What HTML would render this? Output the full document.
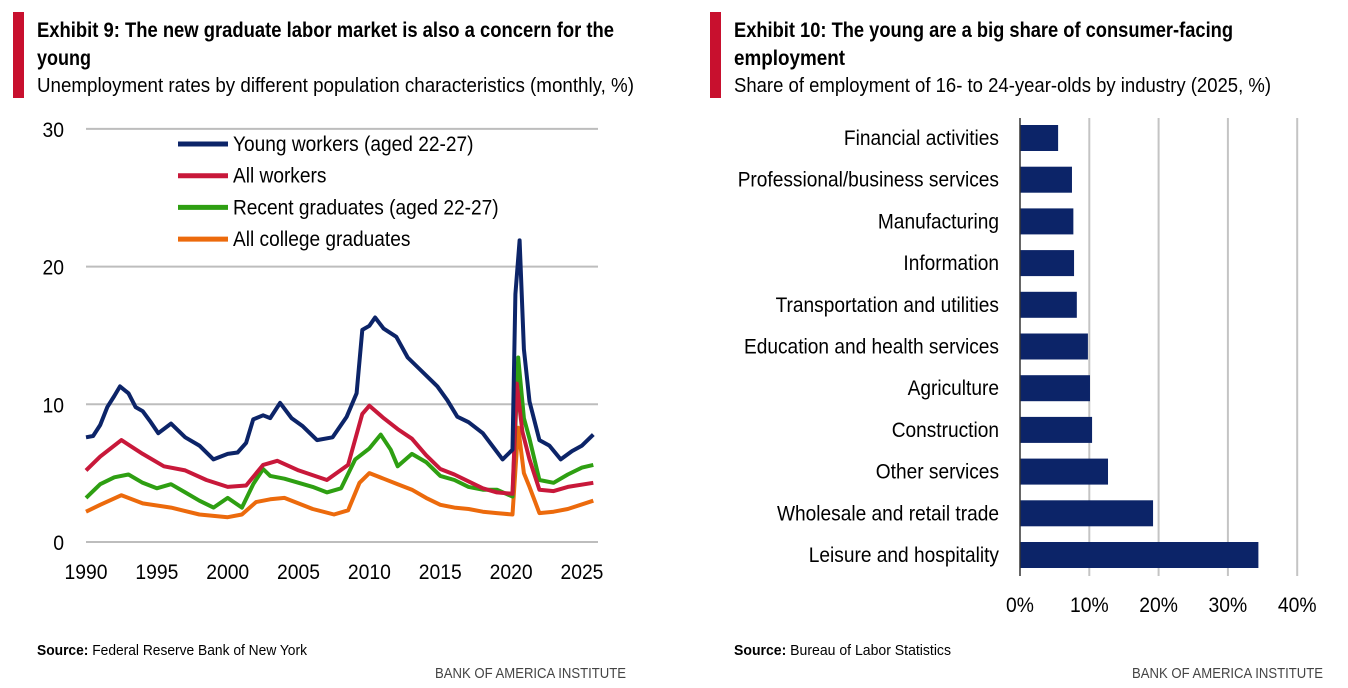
<!DOCTYPE html>
<html><head><meta charset="utf-8">
<style>
body{margin:0;width:1348px;height:688px;background:#fff;overflow:hidden;font-family:"Liberation Sans",sans-serif;color:#111;}
svg{position:absolute;left:0;top:0;}
text{font-family:"Liberation Sans",sans-serif;}
</style></head><body>
<svg id="c" width="1348" height="688">
<rect x="13" y="12" width="11" height="86" fill="#c8102e"/>
<text x="37" y="37" font-size="21" font-weight="bold" textLength="577" lengthAdjust="spacingAndGlyphs">Exhibit 9: The new graduate labor market is also a concern for the</text>
<text x="37" y="65" font-size="21" font-weight="bold" textLength="54" lengthAdjust="spacingAndGlyphs">young</text>
<text x="37" y="92" font-size="20" textLength="597" lengthAdjust="spacingAndGlyphs">Unemployment rates by different population characteristics (monthly, %)</text>
<rect x="710" y="12" width="11" height="86" fill="#c8102e"/>
<text x="734" y="37" font-size="21" font-weight="bold" textLength="499" lengthAdjust="spacingAndGlyphs">Exhibit 10: The young are a big share of consumer-facing</text>
<text x="734" y="65" font-size="21" font-weight="bold" textLength="111" lengthAdjust="spacingAndGlyphs">employment</text>
<text x="734" y="92" font-size="20" textLength="537" lengthAdjust="spacingAndGlyphs">Share of employment of 16- to 24-year-olds by industry (2025, %)</text>
<g id="left"></g>
<g id="right"></g>
<text x="37" y="655" font-size="15" textLength="270" lengthAdjust="spacingAndGlyphs"><tspan font-weight="bold">Source:</tspan> Federal Reserve Bank of New York</text>
<text x="435" y="678" font-size="15" fill="#444" textLength="191" lengthAdjust="spacingAndGlyphs">BANK OF AMERICA INSTITUTE</text>
<text x="734" y="655" font-size="15" textLength="217" lengthAdjust="spacingAndGlyphs"><tspan font-weight="bold">Source:</tspan> Bureau of Labor Statistics</text>
<text x="1132" y="678" font-size="15" fill="#444" textLength="191" lengthAdjust="spacingAndGlyphs">BANK OF AMERICA INSTITUTE</text>
</svg>
<script>
const NS="http://www.w3.org/2000/svg";
// ---- Line chart data ----
const youngDates=[1990,1990.5,1991,1991.5,1992,1992.4,1993,1993.5,1994,1994.5,1995.1,1996,1997,1998,1999,2000,2000.7,2001.3,2001.8,2002.5,2003,2003.7,2004.5,2005.3,2006.3,2007.4,2008.4,2009.1,2009.5,2010,2010.4,2011,2011.9,2012.7,2013.5,2014.8,2015.5,2016.2,2017,2018,2019.4,2020.1,2020.3,2020.6,2020.9,2021.3,2022,2022.7,2023.5,2024.3,2025,2025.8];
const youngVals=[7.6,7.7,8.5,9.8,10.6,11.3,10.8,9.8,9.5,8.8,7.9,8.6,7.6,7.0,6.0,6.4,6.5,7.2,8.9,9.2,9.0,10.1,9.0,8.4,7.4,7.6,9.1,10.8,15.4,15.7,16.3,15.5,14.9,13.4,12.6,11.3,10.3,9.1,8.7,7.9,6.0,6.7,18,21.9,14,10.2,7.4,7.0,6.0,6.6,7.0,7.8];
const allDates=[1990,1991,1992.5,1994,1995.5,1997,1998.5,2000,2001.3,2002.5,2003.5,2005,2007,2008.5,2009.5,2010,2011,2012,2013,2014,2015,2016,2017,2018,2019,2020.1,2020.4,2020.8,2021.3,2022,2023,2024,2025.8];
const allVals=[5.2,6.2,7.4,6.4,5.5,5.2,4.5,4.0,4.1,5.6,5.9,5.2,4.5,5.6,9.3,9.9,9.0,8.2,7.5,6.3,5.3,4.9,4.4,3.9,3.6,3.5,11.5,8.0,6.0,3.8,3.7,4.0,4.3];
const gradDates=[1990,1991,1992,1993,1994,1995,1996,1997,1998,1999,2000,2001,2001.8,2002.5,2003,2004,2005,2006,2007,2008,2009,2010,2010.8,2011.5,2012,2013,2014,2015,2016,2017,2018,2019,2020.1,2020.5,2020.9,2021.3,2022,2023,2024,2025,2025.8];
const gradVals=[3.2,4.2,4.7,4.9,4.3,3.9,4.2,3.6,3.0,2.5,3.2,2.5,4.2,5.3,4.8,4.6,4.3,4.0,3.6,3.9,6.0,6.8,7.8,6.7,5.5,6.4,5.8,4.8,4.5,4.0,3.8,3.8,3.3,13.4,9.0,7.5,4.5,4.3,4.9,5.4,5.6];
const collDates=[1990,1991,1992.5,1994,1996,1998,2000,2001,2002,2003,2004,2006,2007.5,2008.5,2009.3,2010,2011,2012,2013,2014,2015,2016,2017,2018,2019,2020.1,2020.5,2020.9,2021.3,2022,2023,2024,2025.8];
const collVals=[2.2,2.7,3.4,2.8,2.5,2.0,1.8,2.0,2.9,3.1,3.2,2.4,2.0,2.3,4.3,5.0,4.6,4.2,3.8,3.2,2.7,2.5,2.4,2.2,2.1,2.0,8.3,5.0,4.0,2.1,2.2,2.4,3.0];
const seriesNames=["Young workers (aged 22-27)","All workers","Recent graduates (aged 22-27)","All college graduates"];
const yTicks=[0,10,20,30];
const xTicks=[1990,1995,2000,2005,2010,2015,2020,2025];
// ---- Bar chart data ----
const industries=["Financial activities","Professional/business services","Manufacturing","Information","Transportation and utilities","Education and health services","Agriculture","Construction","Other services","Wholesale and retail trade","Leisure and hospitality"];
const shares=[5.5,7.5,7.7,7.8,8.2,9.8,10.1,10.4,12.7,19.2,34.4];
const pctTicks=[0,10,20,30,40];

function el(tag,attrs,parent,txt){const e=document.createElementNS(NS,tag);for(const k in attrs)e.setAttribute(k,attrs[k]);if(txt!==undefined)e.textContent=txt;parent.appendChild(e);return e;}
function squeeze(t,f){const w=t.getComputedTextLength();t.setAttribute('textLength',(w*f).toFixed(1));t.setAttribute('lengthAdjust','spacingAndGlyphs');}

// Left chart
const L=document.getElementById('left');
const xS=y=>86+(y-1990)*14.17;
const yS=v=>542-v*13.77;
yTicks.forEach(t=>{
  const g=el('line',{x1:86,x2:598,y1:yS(t),y2:yS(t),stroke:'#bdbdbd','stroke-width':2},L);
  
  
  const tx=el('text',{x:64,y:yS(t)+8,'font-size':21,'text-anchor':'end'},L,String(t));
  
  
  squeeze(tx,0.92);
});
xTicks.forEach(t=>{
  const tx=el('text',{x:xS(t),y:579,'font-size':21,'text-anchor':'middle'},L,String(t));
  
  
  squeeze(tx,0.92);
});
const sets=[[collDates,collVals,'#ec6a0c','all-college-graduates-line'],[gradDates,gradVals,'#2e9f12','recent-graduates-line'],[allDates,allVals,'#c8183a','all-workers-line'],[youngDates,youngVals,'#0c2468','young-workers-line']];
sets.forEach(s=>{
  const d=s[0].map((x,i)=>(i?'L':'M')+xS(x).toFixed(1)+','+yS(s[1][i]).toFixed(1)).join(' ');
  const p=el('path',{d:d,fill:'none',stroke:s[2],'stroke-width':4,'stroke-linejoin':'round'},L);
  
  
});
const legCols=['#0c2468','#c8183a','#2e9f12','#ec6a0c'];
seriesNames.forEach((n,i)=>{
  const yy=144+i*31.7;
  const ln=el('line',{x1:178,x2:228,y1:yy,y2:yy,stroke:legCols[i],'stroke-width':5},L);
  
  
  const tx=el('text',{x:233,y:yy+7,'font-size':21},L,n);
  
  
  squeeze(tx,0.91);
});

// Right chart
const R=document.getElementById('right');
const bx=v=>1020+v*6.93;
pctTicks.forEach(t=>{
  if(t>0){const g=el('line',{x1:bx(t),x2:bx(t),y1:118,y2:576,stroke:'#c4c4c4','stroke-width':2},R);
  
  }
  const tx=el('text',{x:bx(t),y:612,'font-size':21,'text-anchor':'middle'},R,t+'%');
  
  
  squeeze(tx,0.92);
});
industries.forEach((n,i)=>{
  const cy=138+i*41.7;
  const r=el('rect',{x:1020,y:cy-13,width:bx(shares[i])-1020,height:26,fill:'#0c2468'},R);
  
  
  const tx=el('text',{x:999,y:cy+7,'font-size':21,'text-anchor':'end'},R,n);
  
  
  squeeze(tx,0.91);
});
const ax=el('line',{x1:1020,x2:1020,y1:118,y2:576,stroke:'#333','stroke-width':1.5},R);


</script>
</body></html>
